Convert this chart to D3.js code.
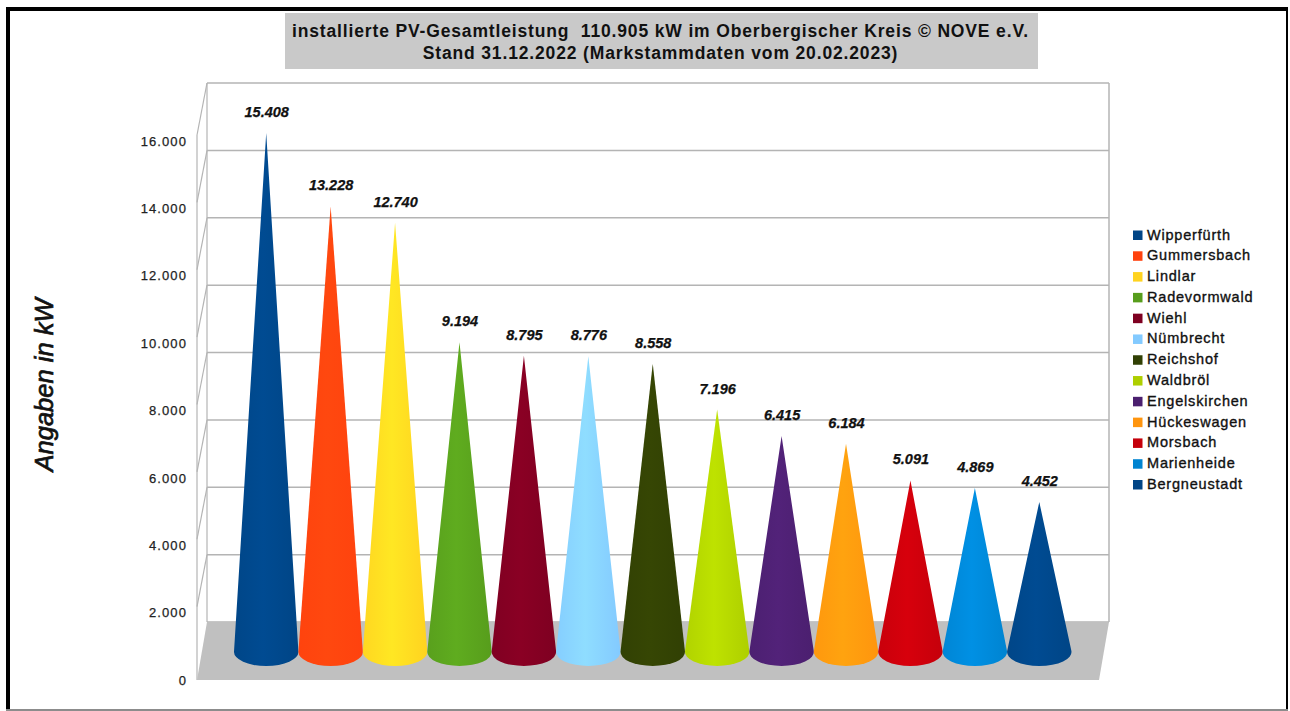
<!doctype html>
<html lang="de">
<head>
<meta charset="utf-8" />
<title>PV-Gesamtleistung Oberbergischer Kreis</title>
<script src="https://d3js.org/d3.v7.min.js"></script>
<style>
  html, body { margin: 0; padding: 0; background: #fff; }
  svg { display: block; font-family: "Liberation Sans", Arial, sans-serif; }
</style>
</head>
<body>
<div id="chart"></div>
<script>
// data
var categories = ["Wipperfürth", "Gummersbach", "Lindlar", "Radevormwald", "Wiehl", "Nümbrecht", "Reichshof",
  "Waldbröl", "Engelskirchen", "Hückeswagen", "Morsbach", "Marienheide", "Bergneustadt"];
var values = [15408, 13228, 12740, 9194, 8795, 8776, 8558, 7196, 6415, 6184, 5091, 4869, 4452];
var colors = ["#004586", "#ff420e", "#ffd320", "#579d1c", "#7e0021", "#83caff", "#314004",
  "#aecf00", "#4b1f6f", "#ff950e", "#c5000b", "#0084d1", "#004586"];
var yTicks = [0, 2000, 4000, 6000, 8000, 10000, 12000, 14000, 16000];
var titleLines = ["installierte PV-Gesamtleistung  110.905 kW im Oberbergischer Kreis © NOVE e.V.",
  "Stand 31.12.2022 (Markstammdaten vom 20.02.2023)"];

var width = 1290, height = 711;
var de = d3.formatLocale({ decimal: ",", thousands: ".", grouping: [3], currency: ["", " €"] });
var fmt = de.format(",");

var svg = d3.select("#chart").append("svg")
  .attr("width", width)
  .attr("height", height);

var defs = svg.append("defs");

// frame of the screenshot
svg.append("rect").attr("x", 6).attr("y", 7).attr("width", 4).attr("height", 703).attr("fill", "#000");
svg.append("rect").attr("x", 6).attr("y", 7).attr("width", 1282).attr("height", 4).attr("fill", "#000");
svg.append("rect").attr("x", 1286).attr("y", 7).attr("width", 2).attr("height", 703).attr("fill", "#000");
svg.append("rect").attr("x", 6).attr("y", 709).attr("width", 1282).attr("height", 2).attr("fill", "#8c8c8c");

// title box
svg.append("rect").attr("x", 285).attr("y", 13).attr("width", 753).attr("height", 56).attr("fill", "#c9c9c9");
svg.append("g").selectAll("text")
  .data(titleLines)
  .enter().append("text")
  .attr("x", 660.5)
  .attr("y", (d, i) => 37 + i * 22)
  .attr("text-anchor", "middle")
  .style("white-space", "pre")
  .style("font-size", "17.5px")
  .style("font-weight", "bold")
  .style("letter-spacing", "0.85px")
  .attr("fill", "#111")
  .text(d => d);

// scales: front edge of the floor, back wall, cones stand between them
var yFront = d3.scaleLinear().domain([0, 16000]).range([680, 141]);
var yBack = d3.scaleLinear().domain([0, 16000]).range([622, 83]);
var yCone = d3.scaleLinear().domain([0, 16000]).range([652, 113]);
var xScale = d3.scaleBand().domain(categories).range([234, 1071.5]);

var wallLeft = 207, wallRight = 1109, frontLeft = 197, frontRight = 1099;
var gridColor = "#b4b4b4";

// back wall gridlines
svg.append("g").selectAll("line")
  .data(yTicks)
  .enter().append("line")
  .attr("x1", wallLeft)
  .attr("x2", wallRight)
  .attr("y1", d => yBack(d))
  .attr("y2", d => yBack(d))
  .attr("stroke", gridColor)
  .attr("stroke-width", 1.5);

svg.append("line").attr("x1", wallRight).attr("x2", wallRight)
  .attr("y1", yBack(16000)).attr("y2", yBack(0))
  .attr("stroke", gridColor).attr("stroke-width", 1.5);
svg.append("line").attr("x1", wallLeft).attr("x2", wallLeft)
  .attr("y1", yBack(16000)).attr("y2", yBack(0))
  .attr("stroke", gridColor).attr("stroke-width", 1.2);
svg.append("line").attr("x1", frontLeft).attr("x2", frontLeft)
  .attr("y1", yBack(16000) + 52).attr("y2", yFront(0))
  .attr("stroke", gridColor).attr("stroke-width", 1.2);

// side wall diagonals
svg.append("g").selectAll("line")
  .data(yTicks.slice(1))
  .enter().append("line")
  .attr("x1", frontLeft)
  .attr("x2", wallLeft)
  .attr("y1", d => yBack(d) + 52)
  .attr("y2", d => yBack(d))
  .attr("stroke", gridColor)
  .attr("stroke-width", 1.2);

// floor
svg.append("path")
  .attr("d", d3.line()([[frontLeft, yFront(0)], [wallLeft, yBack(0)], [wallRight, yBack(0)], [frontRight, yFront(0)]]) + "Z")
  .attr("fill", "#c0c0c0");

// y axis
var yAxis = d3.axisLeft(yFront).tickValues(yTicks).tickFormat(fmt).tickSize(0).tickPadding(10);
var axisG = svg.append("g")
  .attr("transform", `translate(${frontLeft},0)`)
  .call(yAxis);
axisG.select(".domain").remove();
axisG.selectAll("text")
  .style("font-family", "'Liberation Sans', Arial, sans-serif")
  .style("font-size", "13px")
  .style("letter-spacing", "1.1px")
  .attr("stroke", "#222")
  .attr("stroke-width", 0.25)
  .attr("fill", "#222");

svg.append("text")
  .attr("transform", "translate(53,385) rotate(-90)")
  .attr("text-anchor", "middle")
  .style("font-size", "25.5px")
  .style("font-style", "italic")
  .attr("stroke", "#111")
  .attr("stroke-width", 0.7)
  .attr("fill", "#111")
  .text("Angaben in kW");

// cones
var coneRx = xScale.bandwidth() / 2, coneRy = 14;

colors.forEach(function (c, i) {
  var base = d3.rgb(c);
  var grad = defs.append("linearGradient").attr("id", "cone" + i);
  grad.append("stop").attr("offset", "0%").attr("stop-color", base.brighter(0.05).formatHex());
  grad.append("stop").attr("offset", "45%").attr("stop-color", base.brighter(0.25).formatHex());
  grad.append("stop").attr("offset", "100%").attr("stop-color", base.formatHex());
});

function conePath(d, i) {
  var cx = xScale(categories[i]) + coneRx;
  var cy = yCone(0), tip = yCone(d);
  var h = cy - tip;
  // tangent points of the flanks on the base ellipse
  var ty = cy - coneRy * coneRy / h;
  var tx = coneRx * Math.sqrt(1 - (coneRy / h) * (coneRy / h));
  return `M${cx},${tip}L${cx + tx},${ty}A${coneRx},${coneRy} 0 1 1 ${cx - tx},${ty}Z`;
}

svg.append("g").selectAll("path")
  .data(values)
  .enter().append("path")
  .attr("d", conePath)
  .attr("fill", (d, i) => `url(#cone${i})`);

// value labels
svg.append("g").selectAll("text")
  .data(values)
  .enter().append("text")
  .attr("x", (d, i) => xScale(categories[i]) + coneRx + 0.5)
  .attr("y", d => yCone(d) - 16)
  .attr("text-anchor", "middle")
  .style("font-size", "14.5px")
  .style("font-weight", "bold")
  .style("font-style", "italic")
  .attr("stroke", "#111")
  .attr("stroke-width", 0.25)
  .attr("fill", "#111")
  .text(d => fmt(d));

// legend
var legendY = d3.scalePoint().domain(categories).range([235, 484.5]);
var legend = svg.append("g").selectAll("g")
  .data(categories)
  .enter().append("g")
  .attr("transform", d => `translate(1133,${legendY(d)})`);
legend.append("rect")
  .attr("x", 0).attr("y", -4.5)
  .attr("width", 9.5).attr("height", 9.5)
  .attr("fill", (d, i) => colors[i]);
legend.append("text")
  .attr("x", 14)
  .attr("y", 4.5)
  .style("font-size", "14.5px")
  .style("letter-spacing", "0.8px")
  .attr("stroke", "#111")
  .attr("stroke-width", 0.35)
  .attr("fill", "#111")
  .text(d => d);
</script>
</body>
</html>
